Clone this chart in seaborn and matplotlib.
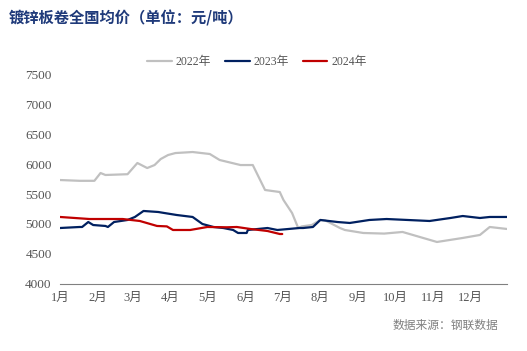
import pandas as pd
import numpy as np
import matplotlib.pyplot as plt
import seaborn as sns

# ---- data (day of year -> price, 元/吨) ----
days_2022 = [1, 17, 29, 34, 38, 56, 64, 72, 78, 83, 89, 95, 109, 123, 131, 148, 158, 168, 180,
             183, 190, 195, 198, 206, 213, 217, 229, 233, 248, 265, 280, 308, 329, 343, 351, 365]
price_2022 = [5733, 5720, 5720, 5850, 5817, 5830, 6017, 5933, 5983, 6083, 6150, 6183, 6200, 6167, 6067,
              5983, 5983, 5567, 5533, 5400, 5183, 4933, 4960, 4983, 5067, 5060, 4933, 4900, 4850,
              4840, 4867, 4700, 4767, 4817, 4950, 4917]

days_2023 = [1, 17, 19, 24, 28, 38, 40, 45, 56, 62, 69, 81, 86, 96, 109, 117, 126, 134, 142, 146,
             153, 154, 170, 178, 196, 199, 207, 213, 227, 237, 253, 267, 302, 319, 329, 343, 351, 365]
price_2023 = [4933, 4950, 4950, 5033, 4983, 4967, 4950, 5033, 5067, 5117, 5217, 5200, 5183, 5150,
              5117, 5000, 4950, 4933, 4900, 4850, 4850, 4900, 4933, 4900, 4933, 4933, 4950, 5067,
              5033, 5017, 5067, 5083, 5050, 5100, 5133, 5100, 5117, 5117]

days_2024 = [1, 13, 25, 52, 66, 80, 88, 93, 107, 121, 137, 145, 156, 170, 180, 182]
price_2024 = [5117, 5100, 5083, 5083, 5050, 4967, 4960, 4900, 4900, 4950, 4945, 4950, 4917, 4883, 4833, 4833]

month_start = [1, 32, 60, 91, 121, 152, 182, 213, 244, 274, 305, 335]
month_labels = [f"{m}月" for m in range(1, 13)]

series = [("2022年", days_2022, price_2022, "#c0c0c0"),
          ("2023年", days_2023, price_2023, "#002060"),
          ("2024年", days_2024, price_2024, "#c00000")]

sns.set_style("white")
plt.rcParams['font.family'] = ['Liberation Serif', 'Noto Sans CJK SC', 'DejaVu Sans']
plt.rcParams['axes.unicode_minus'] = False

fig = plt.figure(figsize=(5.27, 3.51), dpi=100)
ax = fig.add_axes([0.1139, 0.191, 0.848, 0.598])

for name, d, p, c in series:
    df = pd.DataFrame({"day": d, "price": p})
    sns.lineplot(data=df, x="day", y="price", color=c, linewidth=1.6, label=name, ax=ax)

ax.set_xlim(1, 365)
ax.set_ylim(4000, 7500)
ax.set_yticks(np.arange(4000, 7501, 500))
ax.set_xticks(month_start)
ax.set_xticklabels(month_labels)
ax.set_xlabel("")
ax.set_ylabel("")

for s in ["top", "right", "left"]:
    ax.spines[s].set_visible(False)
ax.spines["bottom"].set_color("#808080")
ax.spines["bottom"].set_linewidth(0.8)
ax.tick_params(axis="x", direction="out", length=4, color="#808080", labelsize=9,
               labelcolor="#555555", pad=2)
ax.tick_params(axis="y", length=0, labelsize=9.5, labelcolor="#555555", pad=6)

ax.legend(loc="center", bbox_to_anchor=(0.487, 0.824), bbox_transform=fig.transFigure,
          ncol=3, frameon=False, fontsize=8.5, handlelength=2.1, columnspacing=1.2,
          labelcolor="#555555", handletextpad=0.3)

fig.text(0.017, 0.948, "镀锌板卷全国均价（单位：元/吨）", fontsize=11, fontweight="bold",
         color="#1f3a7a", family=["Noto Sans CJK SC"], va="center", ha="left")
fig.text(0.946, 0.074, "数据来源：钢联数据", fontsize=8.5, color="#808080",
         family=["Noto Sans CJK SC"], va="center", ha="right")

fig.savefig("out.png", dpi=100)
